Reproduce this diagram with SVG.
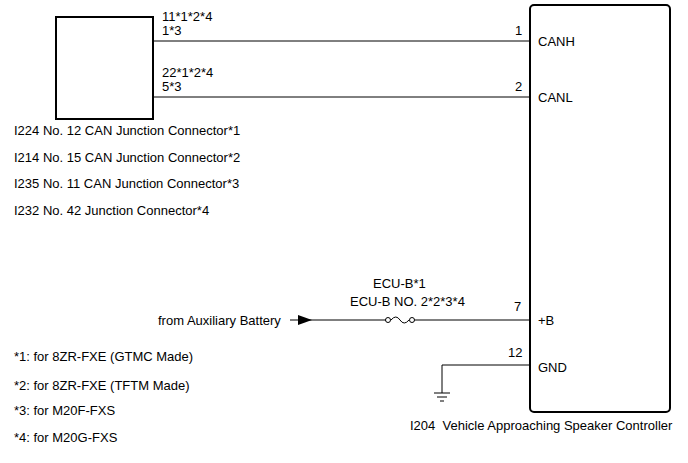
<svg xmlns="http://www.w3.org/2000/svg" width="688" height="463" viewBox="0 0 688 463">
<style>
text{font-family:"Liberation Sans",Arial,sans-serif;font-size:13px;fill:#000}
.w{stroke:#000;stroke-width:1;fill:none}
.b{stroke:#000;stroke-width:2;fill:#fff}
</style>
<rect width="688" height="463" fill="#fff"/>
<g id="junction"><rect class="b" x="56" y="17" width="97" height="102"/></g>
<g id="controller"><rect class="b" x="530" y="5" width="140" height="407" rx="4"/>
<text x="538" y="46">CANH</text><text x="538" y="102">CANL</text><text x="538" y="325">+B</text><text x="538" y="372">GND</text></g>
<g id="connectors">
<line class="w" x1="153" y1="41" x2="530" y2="41"/>
<line class="w" x1="153" y1="97" x2="530" y2="97"/>
<line class="w" x1="290" y1="320" x2="386" y2="320"/>
<polygon points="298,315 312,320 298,325" fill="#000"/>
<circle class="w" cx="388" cy="320" r="2.5"/>
<path class="w" d="M391,320 Q396,314 400,320 Q404,326 409,320"/>
<circle class="w" cx="412" cy="320" r="2.5"/>
<line class="w" x1="414.5" y1="320" x2="530" y2="320"/>
<polyline class="w" points="530,365 442,365 442,393"/>
<line class="w" x1="434" y1="393" x2="450" y2="393"/>
<line class="w" x1="437" y1="397" x2="447" y2="397"/>
<line class="w" x1="440" y1="401" x2="444" y2="401"/>
</g>
<g id="labels">
<text x="162" y="21">11*1*2*4</text><text x="162" y="35">1*3</text>
<text x="162" y="77">22*1*2*4</text><text x="162" y="91">5*3</text>
<text x="515" y="35">1</text><text x="515" y="91">2</text>
<text x="514" y="311">7</text><text x="508" y="357">12</text>
<text x="373" y="288">ECU-B*1</text><text x="350" y="306">ECU-B NO. 2*2*3*4</text>
<text x="158" y="325">from Auxiliary Battery</text>
<text x="14" y="135">I224 No. 12 CAN Junction Connector*1</text>
<text x="14" y="162">I214 No. 15 CAN Junction Connector*2</text>
<text x="14" y="188">I235 No. 11 CAN Junction Connector*3</text>
<text x="14" y="215">I232 No. 42 Junction Connector*4</text>
<text x="14" y="361">*1: for 8ZR-FXE (GTMC Made)</text>
<text x="14" y="390">*2: for 8ZR-FXE (TFTM Made)</text>
<text x="14" y="415">*3: for M20F-FXS</text>
<text x="14" y="442">*4: for M20G-FXS</text>
<text x="410" y="430">I204&#160; Vehicle Approaching Speaker Controller</text>
</g>
</svg>
